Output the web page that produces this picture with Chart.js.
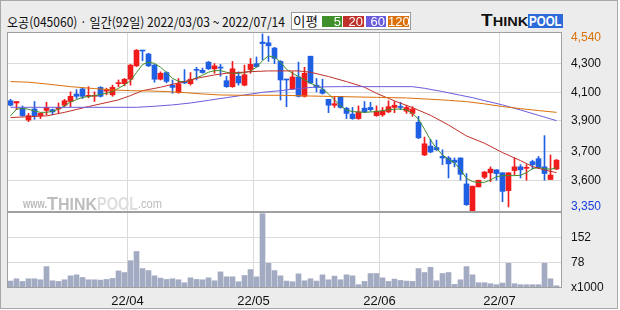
<!DOCTYPE html>
<html>
<head>
<meta charset="utf-8">
<script src="https://cdn.jsdelivr.net/npm/chart.js@4.4.1/dist/chart.umd.min.js"></script>
<style>
  body { margin: 0; width: 620px; height: 310px; background: #fff; overflow: hidden; position: relative; }
  #frame { position: absolute; left: 0; top: 0; width: 616px; height: 307px; border: 1px solid #a8a8a8; background: #ececec; }
  .fit { position: absolute; white-space: nowrap; transform-origin: 0 50%; }
  #title { left: 7px; top: 13px; font: 13px "Noto Sans CJK KR"; line-height: 17px; color: #111; }
  #legend { position: absolute; left: 291px; top: 12px; width: 118px; height: 16px; border: 1px solid #9a9a9a; background: #fff; }
  #legendName { left: 293px; top: 12px; font: 13px "Noto Sans CJK KR"; line-height: 17px; color: #111; }
  .ma { position: absolute; top: 16px; height: 11px; color: #fff; font: 13px "Liberation Sans"; line-height: 11px; text-align: right; box-sizing: border-box; padding-right: 1px; }
  #logoT { left: 481px; top: 12px; font: bold 17px "Liberation Sans"; line-height: 17px; color: #111; }
  #logoPool { position: absolute; left: 528px; top: 14px; width: 35px; height: 14px; background: #2b6ad8; }
  #logoPoolTxt { left: 529px; top: 13px; font: bold 15px "Liberation Sans"; line-height: 16px; color: #fff; }
  canvas { position: absolute; left: 0; }
</style>
</head>
<body>
<div id="frame"></div>
<div id="title" class="fit">오공(045060) · 일간(92일) 2022/03/03 ~ 2022/07/14</div>
<div id="legend"></div>
<div id="legendName" class="fit">이평</div>
<div id="logoT" class="fit">T<span style="font-size:13px">HINK</span></div>
<div id="logoPool"></div>
<div id="logoPoolTxt" class="fit">POOL</div>
<canvas id="price" width="620" height="212" style="top:0"></canvas>
<canvas id="vol" width="620" height="98" style="top:212px"></canvas>
<script>
// daily candles, 2022/03/03 ~ 2022/07/14 (92 trading days)
const open = [4090,4075,4040,3960,4035,3990,4025,4030,4035,4060, 4085,4135,4170,4120,4120,4180,4155,4130,4205,4205,
  4235,4325,4430,4405,4330,4235,4280,4195,4145,4220, 4205,4300,4295,4350,4305,4315,4225,4185,4255,4195,
  4300,4340,4485,4480,4445,4355,4235,4170,4250,4120, 4390,4195,4165,4100,4060,4120,4040,4000,3970,4040,
  4045,3990,3995,4015,4045,4050,4020,4005,3945,3725, 3785,3775,3715,3705,3690,3705,3530,3350,3510,3575,
  3605,3625,3605,3485,3620,3645,3635,3680,3700,3645, 3560,3630];
const high = [4100,4085,4055,4005,4085,4010,4080,4035,4075,4100, 4150,4165,4175,4185,4150,4185,4175,4195,4230,4240,
  4335,4435,4430,4410,4335,4285,4285,4230,4240,4300, 4280,4315,4310,4355,4340,4335,4255,4355,4285,4330,
  4375,4385,4540,4525,4450,4360,4235,4285,4350,4315, 4390,4240,4235,4100,4120,4120,4045,4045,4055,4085,
  4080,4055,4045,4090,4085,4080,4060,4050,3985,3845, 3830,3825,3760,3715,3705,3705,3600,3515,3555,3615,
  3645,3625,3605,3605,3705,3660,3660,3690,3715,3855, 3725,3695];
const low = [4055,4030,3985,3950,3965,3970,3995,3995,4010,4050, 4050,4105,4105,4110,4085,4115,4130,4120,4185,4190,
  4195,4320,4360,4320,4215,4230,4210,4140,4140,4205, 4195,4230,4275,4300,4275,4255,4180,4180,4195,4190,
  4275,4315,4365,4355,4340,4095,4050,4165,4115,4115, 4205,4150,4135,4010,4045,4040,3970,3965,3965,4010,
  4020,3985,3985,4010,4010,4030,4005,3985,3835,3720, 3740,3755,3660,3570,3645,3555,3385,3350,3510,3565,
  3545,3555,3410,3375,3590,3570,3555,3630,3635,3555, 3560,3625];
const close = [4060,4085,3990,3990,3990,4005,4045,4015,4045,4090, 4120,4120,4120,4125,4125,4120,4165,4180,4210,4235,
  4330,4430,4425,4325,4235,4275,4220,4180,4205,4210, 4235,4295,4280,4305,4325,4310,4185,4305,4210,4265,
  4335,4320,4475,4460,4375,4230,4230,4250,4120,4275, 4210,4180,4140,4060,4070,4045,4005,3970,4015,4015,
  4030,4020,4020,4050,4060,4045,4045,4035,3840,3800, 3745,3760,3705,3665,3675,3595,3390,3515,3555,3610,
  3630,3600,3480,3605,3645,3625,3640,3660,3640,3600, 3590,3690];
// volume, x1000 shares
const volume = [21,28,20,28,28,25,65,22,20,25, 37,40,32,25,25,24,26,29,52,47,
  83,111,59,53,37,30,26,28,25,16, 31,26,25,31,22,49,34,34,19,38,
  56,34,226,75,53,37,21,19,43,22, 28,21,40,25,36,25,40,37,10,20,
  44,44,31,20,27,23,21,20,59,47, 63,22,44,47,11,25,65,40,16,16,
  13,10,15,75,13,10,10,10,10,75, 28,7];

// moving averages (candle index -> price)
const ma5Idx = [0,1,2,3,4,5,6,7,8,9,10,11,12,14,16,17,18,19,20,21,22,23,24,25,26,27,28,29,30,31,32,33,34,35,36,37,38,39,40,41,42,43,44,45,46,47,48,50,52,53,54,55,56,57,59,61,63,65,66,67,68,69,70,71,72,73,74,75,76,77,78,79,80,81,82,84,85,86,87,88,89,90,91];
const ma5Val = [3988,4033,4039,4033,4021,4012,4012,4019,4033,4055,4082,4098,4113,4125,4140,4152,4174,4197,4226,4280,4334,4349,4342,4316,4280,4241,4221,4217,4228,4244,4262,4282,4293,4293,4282,4273,4275,4280,4289,4316,4360,4392,4383,4351,4302,4275,4253,4208,4172,4136,4096,4055,4028,4017,4012,4017,4030,4035,4028,4006,3965,3898,3826,3770,3725,3696,3673,3624,3568,3546,3539,3541,3557,3579,3586,3586,3588,3606,3633,3640,3633,3629,3638];
const ma20Idx = [0,6,9,13,15,18,20,22,25,27,29,31,34,36,38,40,43,48,50,53,56,59,61,64,67,70,73,76,79,82,85,87,89,91];
const ma20Val = [3977,3988,4012,4051,4069,4096,4125,4158,4181,4201,4219,4241,4264,4275,4280,4286,4291,4291,4282,4253,4219,4181,4140,4089,4044,3992,3927,3853,3804,3741,3687,3647,3624,3606];
const ma60Idx = [0,21,24,27,30,33,36,39,42,45,48,51,55,67,69,72,75,77,79,82,85,88,91];
const ma60Val = [4046,4046,4053,4062,4075,4093,4111,4129,4147,4158,4172,4183,4185,4185,4174,4152,4127,4111,4091,4062,4028,3992,3956];
const ma120Idx = [0,3,6,10,14,17,20,23,26,29,32,35,39,45,50,55,61,66,70,73,76,79,82,85,88,91];
const ma120Val = [4219,4215,4203,4185,4172,4163,4158,4156,4152,4145,4136,4129,4127,4127,4122,4118,4113,4109,4100,4093,4084,4069,4051,4037,4024,4012];

const maPeriods = ['5', '20', '60', '120'];
const maColors = ['#3f8f2a', '#c0302a', '#6a5cdc', '#dc7008'];

// axis ticks
const monthIdx = [20, 41, 62, 82];
const monthLabels = ['22/04', '22/05', '22/06', '22/07'];
const priceTickVals = [3375, 3552, 3747, 3954, 4147, 4343, 4513];
const priceTickLabels = ['3,350', '3,600', '3,700', '3,900', '4,100', '4,300', '4,540'];
const volTickVals = [0, 78, 152];
const volTickLabels = ['x1000', '78', '152'];

const N = close.length;
// 6px per trading day, candle centres on half pixels so 1px wicks stay sharp
const xMin = -0.5 - 0.5 / 6;
const xMax = xMin + 92.5;
const upColor = '#f21b1b';
const downColor = '#1f5fe3';
const gridColor = '#dadada';
const candleColors = close.map((c, i) => c >= open[i] ? upColor : downColor);

Chart.defaults.font.family = '"Liberation Sans", Arial, sans-serif';
Chart.defaults.color = '#111';

// fit html text boxes to their widths in the picture
function fitEl(id, w) {
  const el = document.getElementById(id);
  el.style.transform = `scaleX(${w / el.offsetWidth})`;
}
fitEl('title', 278);
fitEl('legendName', 25);
fitEl('logoT', 47);
fitEl('logoPoolTxt', 33);

// legend colour boxes
const maBoxes = [[322, 20], [343, 21], [366, 20], [388, 21]];
maPeriods.forEach((p, k) => {
  const d = document.createElement('div');
  d.className = 'ma';
  d.style.left = maBoxes[k][0] + 'px';
  d.style.width = maBoxes[k][1] + 'px';
  d.style.background = maColors[k];
  d.textContent = p;
  document.body.appendChild(d);
});

function drawFit(ctx, text, x, y, w, font, color) {
  ctx.font = font;
  const m = ctx.measureText(text).width;
  ctx.save();
  ctx.translate(x, y);
  ctx.scale(w / m, 1);
  ctx.fillStyle = color;
  ctx.fillText(text, 0, 0);
  ctx.restore();
}

// keep tick labels from eating into the plot area
function noPad(s) {
  s.paddingTop = 0;
  s.paddingBottom = 0;
  s.paddingLeft = 0;
  s.paddingRight = 0;
}

// white plot background + grey border
const panelPlugin = {
  id: 'panel',
  beforeDraw(chart) {
    const { ctx, chartArea: a } = chart;
    ctx.save();
    ctx.fillStyle = '#fff';
    ctx.fillRect(a.left, a.top, a.right - a.left, a.bottom - a.top);
    ctx.restore();
  },
  afterDraw(chart) {
    const { ctx, chartArea: a } = chart;
    ctx.save();
    ctx.strokeStyle = '#a0a0a0';
    ctx.lineWidth = 1;
    ctx.strokeRect(Math.round(a.left) + 0.5, Math.round(a.top) + 0.5,
      Math.round(a.right - a.left) - 1, Math.round(a.bottom - a.top) - 1);
    ctx.restore();
  }
};

const watermarkPlugin = {
  id: 'watermark',
  beforeDatasetsDraw(chart) {
    const ctx = chart.ctx;
    ctx.save();
    ctx.textBaseline = 'alphabetic';
    drawFit(ctx, 'www.', 23, 208, 24, 'bold 12px "Liberation Sans"', '#bcbcbc');
    drawFit(ctx, 'T', 47, 210, 11, 'bold 19px "Liberation Sans"', '#bdbdbd');
    drawFit(ctx, 'HINK', 58, 210, 39, 'bold 16px "Liberation Sans"', '#bdbdbd');
    drawFit(ctx, 'POOL', 97, 210, 41, 'bold 19px "Liberation Sans"', '#dedede');
    drawFit(ctx, '.com', 138, 208, 24, '13px "Liberation Sans"', '#bcbcbc');
    ctx.restore();
  }
};

function xScale(showLabels) {
  return {
    type: 'linear',
    offset: false,
    min: xMin,
    max: xMax,
    afterBuildTicks: s => { s.ticks = monthIdx.map(v => ({ value: v - 0.5 })); },
    ticks: {
      display: showLabels,
      autoSkip: false,
      maxRotation: 0,
      padding: 6,
      font: { size: 13 },
      callback: (v, i) => monthLabels[i]
    },
    grid: { offset: false, color: gridColor, drawTicks: false },
    border: { display: false },
    afterFit: s => { s.height = showLabels ? 22 : 0; noPad(s); }
  };
}

const maSets = [
  [ma120Idx, ma120Val], [ma60Idx, ma60Val], [ma20Idx, ma20Val], [ma5Idx, ma5Val]
].map(([idx, val], k) => ({
  type: 'line',
  data: idx.map((x, j) => ({ x, y: val[j] })),
  borderColor: maColors[3 - k],
  borderWidth: 1,
  pointRadius: 0,
  tension: 0,
  order: 0
}));

new Chart(document.getElementById('price'), {
  type: 'bar',
  data: {
    datasets: [
      ...maSets,
      {
        type: 'bar',
        data: close.map((c, i) => ({ x: i, y: [open[i], c] })),
        backgroundColor: candleColors,
        barThickness: 5,
        minBarLength: 1,
        grouped: false,
        order: 2
      },
      {
        type: 'bar',
        data: close.map((c, i) => ({ x: i, y: [low[i], high[i]] })),
        backgroundColor: candleColors,
        barThickness: 1,
        grouped: false,
        order: 3
      }
    ]
  },
  options: {
    responsive: false,
    animation: false,
    devicePixelRatio: 1,
    layout: { padding: { left: 7, top: 32, right: 0, bottom: 0 }, autoPadding: false },
    plugins: { legend: { display: false }, tooltip: { enabled: false } },
    scales: {
      x: xScale(false),
      y: {
        position: 'right',
        min: 3341,
        max: 4553,
        afterBuildTicks: s => { s.ticks = priceTickVals.map(v => ({ value: v })); },
        ticks: {
          padding: 9,
          font: { size: 12 },
          callback: (v, i) => priceTickLabels[i],
          color: c => c.index === 0 ? '#1a3fe0' : (c.index === priceTickVals.length - 1 ? '#dc7008' : '#111')
        },
        grid: {
          drawTicks: false,
          color: c => (c.index === 0 || c.index === priceTickVals.length - 1) ? 'rgba(0,0,0,0)' : gridColor
        },
        border: { display: false },
        afterFit: s => { s.width = 58; noPad(s); }
      }
    }
  },
  plugins: [panelPlugin, watermarkPlugin]
});

new Chart(document.getElementById('vol'), {
  type: 'bar',
  data: {
    datasets: [{
      data: volume.map((v, i) => ({ x: i, y: v })),
      backgroundColor: '#a3abc3',
      barThickness: 5
    }]
  },
  options: {
    responsive: false,
    animation: false,
    devicePixelRatio: 1,
    layout: { padding: { left: 7, top: 0, right: 0, bottom: 0 }, autoPadding: false },
    plugins: { legend: { display: false }, tooltip: { enabled: false } },
    scales: {
      x: xScale(true),
      y: {
        position: 'right',
        min: 0,
        max: 231,
        afterBuildTicks: s => { s.ticks = volTickVals.map(v => ({ value: v })); },
        ticks: { padding: 9, font: { size: 12 }, callback: (v, i) => volTickLabels[i] },
        grid: { drawTicks: false, color: c => c.index === 0 ? 'rgba(0,0,0,0)' : gridColor },
        border: { display: false },
        afterFit: s => { s.width = 58; noPad(s); }
      }
    }
  },
  plugins: [panelPlugin]
});
</script>
</body>
</html>
